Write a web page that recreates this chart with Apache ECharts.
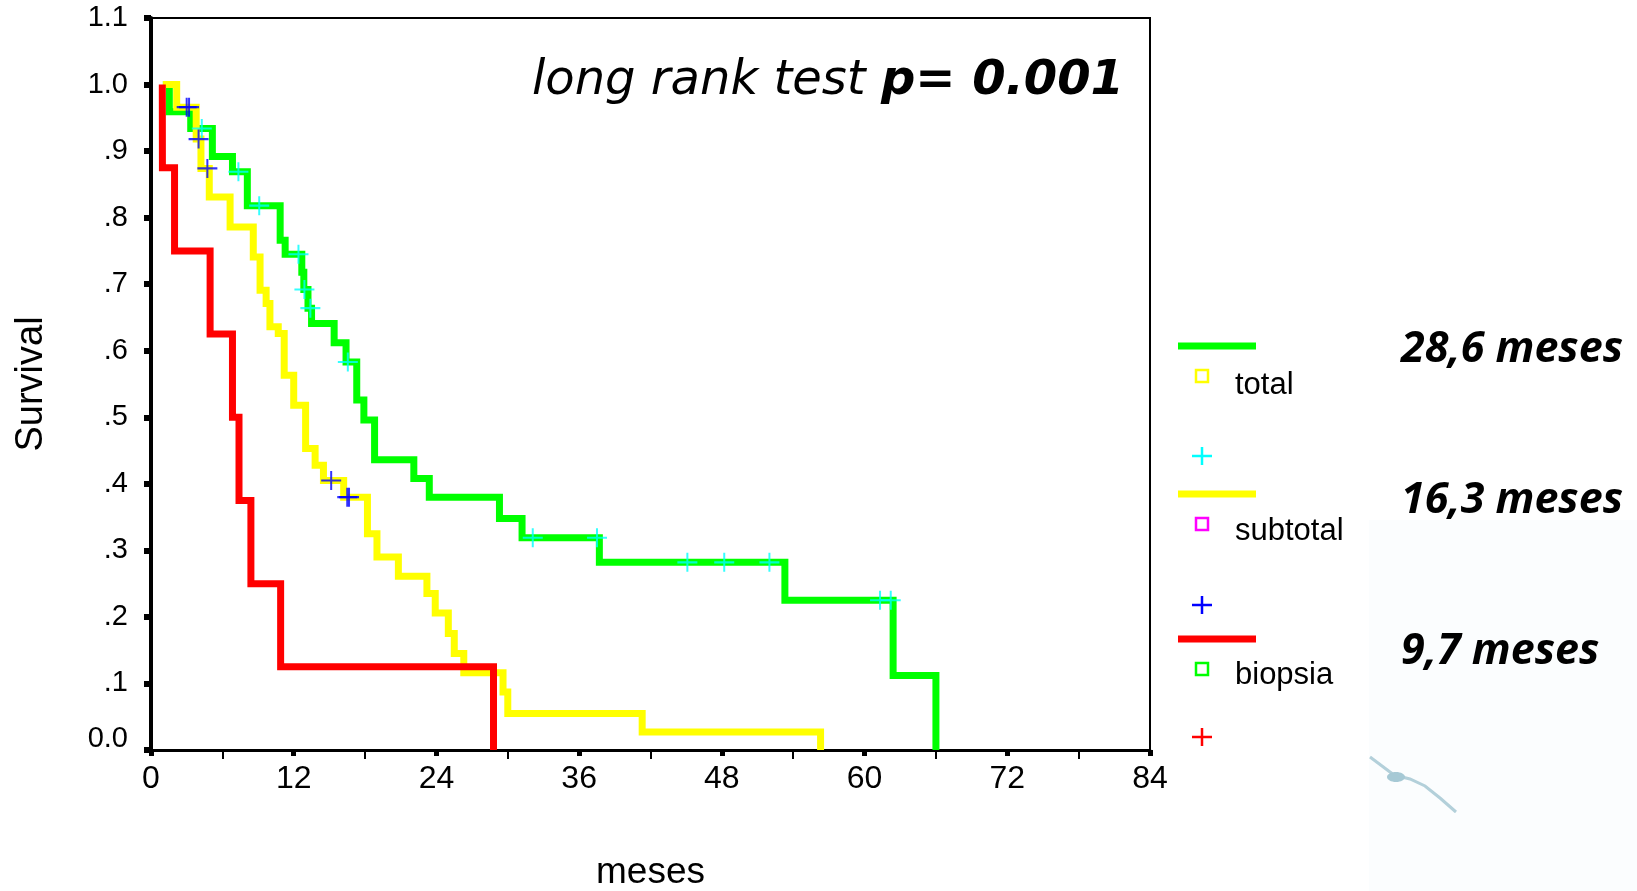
<!DOCTYPE html>
<html><head><meta charset="utf-8">
<script src="https://cdn.jsdelivr.net/npm/echarts@6/dist/echarts.min.js"></script>
<style>html,body{margin:0;padding:0;background:#fff}#c{width:1637px;height:891px}</style>
</head><body><div id="c"></div>
<script>
// ---- data (months, survival) ----
const xTickLabels = ['0','12','24','36','48','60','72','84'];
const yTickLabels = ['0.0','.1','.2','.3','.4','.5','.6','.7','.8','.9','1.0','1.1'];

// total (green): step times and survival after each step
const totalT = [1.0, 1.54, 3.34, 5.16, 6.85, 8.1, 10.86, 11.28, 12.68, 12.85, 13.2, 13.5, 15.4, 16.4, 17.3, 17.9, 18.8, 22.1, 23.4, 29.3, 31.2, 37.7, 53.3, 62.4, 66.0];
const totalS = [1.0, 0.959, 0.934, 0.892, 0.869, 0.818, 0.766, 0.745, 0.718, 0.692, 0.664, 0.641, 0.612, 0.583, 0.526, 0.496, 0.436, 0.408, 0.380, 0.348, 0.319, 0.282, 0.225, 0.112, 0.0];
const totalCensT = [4.27, 7.35, 9.1, 12.4, 12.9, 13.4, 16.55, 32.1, 37.5, 45.1, 48.2, 52.0, 61.3, 62.2];
const totalCensS = [0.934, 0.869, 0.818, 0.745, 0.692, 0.664, 0.583, 0.319, 0.319, 0.282, 0.282, 0.282, 0.225, 0.225];

// subtotal (yellow)
const subT = [1.0, 2.16, 3.8, 4.2, 4.9, 6.65, 8.6, 9.17, 9.68, 10.0, 10.7, 11.2, 12.0, 13.0, 13.8, 14.5, 16.2, 18.2, 19.0, 20.8, 23.2, 23.9, 25.0, 25.5, 26.3, 29.6, 30.0, 41.3, 56.3];
const subS = [1.0, 0.966, 0.918, 0.874, 0.831, 0.786, 0.741, 0.691, 0.671, 0.636, 0.626, 0.563, 0.518, 0.453, 0.428, 0.405, 0.380, 0.325, 0.290, 0.261, 0.235, 0.206, 0.175, 0.145, 0.116, 0.087, 0.055, 0.027, 0.0];
const subCensT = [3.0, 3.2, 4.0, 4.74, 15.15, 16.5, 16.65];
const subCensS = [0.966, 0.966, 0.918, 0.874, 0.405, 0.380, 0.380];

// biopsia (red)
const bioT = [0.95, 0.96, 1.98, 4.97, 6.85, 7.4, 8.4, 10.9, 28.8];
const bioS = [1.0, 0.875, 0.75, 0.625, 0.5, 0.375, 0.25, 0.125, 0.0];

const groups = ['total', 'subtotal', 'biopsia'];
const medians = ['28,6 meses', '16,3 meses', '9,7 meses'];
const testText = ['long rank test ', 'p= 0.001'];

// ---- chart ----
const zip = (a, b) => a.map((v, i) => [v, b[i]]);
const cross = 'path://M-10,-1 L10,-1 L10,1 L-10,1 Z M-1,-9 L1,-9 L1,9 L-1,9 Z';

function stepSeries(name, t, s, color) {
  return { name, type: 'line', step: 'end', data: zip(t, s), symbol: 'none',
    lineStyle: { color, width: 7, cap: 'butt', join: 'miter' }, z: 3, silent: true };
}
function censSeries(name, t, s, color) {
  return { name, type: 'scatter', data: zip(t, s), symbol: cross, symbolSize: [20, 19],
    itemStyle: { color }, z: 5, silent: true };
}

const chart = echarts.init(document.getElementById('c'));

const legX = 1178, legX2 = 1256, mx = 1202, tx = 1235;
function legLine(y, color) { return { type: 'line', shape: { x1: legX, y1: y, x2: legX2, y2: y }, style: { stroke: color, lineWidth: 7 } }; }
function legSq(y, color) { return { type: 'rect', shape: { x: mx - 6, y: y - 6, width: 12, height: 12 }, style: { fill: 'none', stroke: color, lineWidth: 2.5 } }; }
function legCross(y, color) { return { type: 'group', children: [
  { type: 'line', shape: { x1: mx - 10, y1: y, x2: mx + 10, y2: y }, style: { stroke: color, lineWidth: 2.5 } },
  { type: 'line', shape: { x1: mx, y1: y - 9, x2: mx, y2: y + 9 }, style: { stroke: color, lineWidth: 2.5 } } ] }; }
function legText(y, s) { return { type: 'text', x: tx, y: y, style: { text: s, font: '31px "Liberation Sans", Arial, sans-serif', fill: '#000', verticalAlign: 'middle' } }; }
function medText(y, s) { return { type: 'text', x: 1401, y: y, style: { text: s, font: 'italic bold 43px "Open Sans", sans-serif', fill: '#000', verticalAlign: 'middle' } }; }

chart.setOption({
  animation: false,
  backgroundColor: '#fff',
  grid: { left: 151, right: 487, top: 18, bottom: 141, show: true, borderColor: '#000', borderWidth: 2,
    containLabel: false, outerBoundsMode: 'none' },
  xAxis: {
    type: 'value', min: 0, max: 84, interval: 12,
    name: 'meses', nameLocation: 'middle', nameGap: 104,
    nameTextStyle: { fontFamily: '"Liberation Sans Narrow", "Liberation Sans", sans-serif', fontSize: 37, color: '#000' },
    axisLine: { show: true, onZero: false, lineStyle: { color: '#000', width: 3 } },
    axisTick: { show: true, inside: false, length: 6, lineStyle: { color: '#000', width: 5 } },
    minorTick: { show: true, splitNumber: 2, length: 9, lineStyle: { color: '#000', width: 2 } },
    axisLabel: { margin: 13, fontFamily: '"Liberation Sans Narrow", "Liberation Sans", sans-serif', fontSize: 32, color: '#000',
      formatter: v => xTickLabels[Math.round(v / 12)] },
    splitLine: { show: false }
  },
  yAxis: {
    type: 'value', min: 0, max: 1.1, interval: 0.1,
    name: 'Survival', nameLocation: 'middle', nameGap: 100, nameRotate: 90,
    nameTextStyle: { fontFamily: '"Liberation Sans", Arial, sans-serif', fontSize: 38, color: '#000' },
    axisLine: { show: true, onZero: false, lineStyle: { color: '#000', width: 4 } },
    axisTick: { show: true, inside: false, length: 7, lineStyle: { color: '#000', width: 6 } },
    axisLabel: { margin: 23, fontFamily: '"Liberation Sans", Arial, sans-serif', fontSize: 29, color: '#000',
      formatter: v => { const i = Math.round(v * 10); return i === 0 ? '{z|' + yTickLabels[0] + '}' : yTickLabels[i]; },
      rich: { z: { fontFamily: '"Liberation Sans", Arial, sans-serif', fontSize: 29, color: '#000', padding: [0, 0, 22, 0] } } },
    splitLine: { show: false }
  },
  series: [
    stepSeries(groups[0], totalT, totalS, '#00ff00'),
    stepSeries(groups[1], subT, subS, '#ffff00'),
    stepSeries(groups[2], bioT, bioS, '#ff0000'),
    censSeries(groups[0] + ' censored', totalCensT, totalCensS, '#00ffff'),
    censSeries(groups[1] + ' censored', subCensT, subCensS, '#0000ff')
  ],
  graphic: [
    { type: 'rect', shape: { x: 1369, y: 520, width: 268, height: 371 }, style: { fill: '#fbfdfe' }, z: -1 },
    { type: 'polyline', shape: { points: [[1370, 757], [1382, 766], [1394, 775], [1410, 779], [1425, 786], [1440, 798], [1456, 812]] },
      style: { stroke: '#b3d0da', lineWidth: 3, fill: 'none' }, z: -1 },
    { type: 'ellipse', shape: { cx: 1396, cy: 777, rx: 9, ry: 5 }, style: { fill: '#a6c9d5' }, z: -1 },
    { type: 'text', right: 1637 - 1124, top: 58, style: {
      text: '{a|' + testText[0] + '}{b|' + testText[1] + '}',
      rich: { a: { font: 'italic 48px "DejaVu Sans", Verdana, sans-serif', fill: '#000' },
              b: { font: 'italic bold 48px "DejaVu Sans", Verdana, sans-serif', fill: '#000' } } } },
    legLine(346, '#00ff00'), legSq(376, '#ffff00'), legText(385, groups[0]), legCross(456, '#00ffff'),
    legLine(494, '#ffff00'), legSq(524, '#ff00ff'), legText(531, groups[1]), legCross(605, '#0000ff'),
    legLine(639, '#ff0000'), legSq(669, '#00ff00'), legText(675, groups[2]), legCross(737, '#ff0000'),
    medText(350, medians[0]), medText(501, medians[1]), medText(652, medians[2])
  ]
});
</script></body></html>
